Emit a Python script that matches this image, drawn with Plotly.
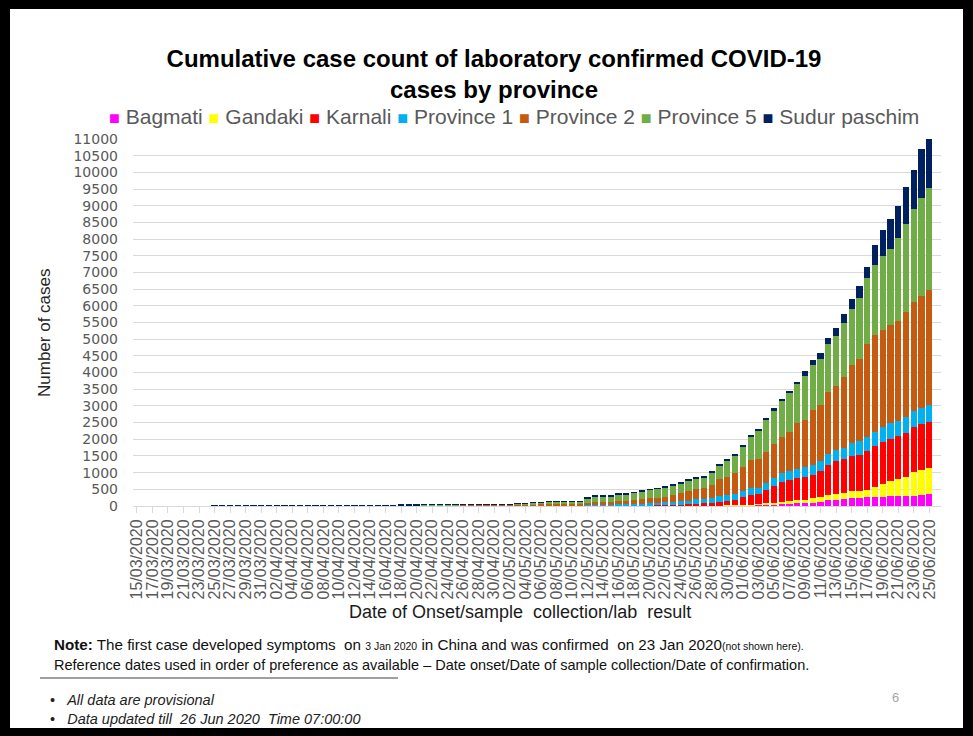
import pandas as pd
import plotly.graph_objects as go

# ---- categories: one bar per day, axis runs one extra (empty) day past the data ----
first_day = "2020-03-15"
last_axis_day = "2020-06-26"
dates = pd.date_range(first_day, last_axis_day).strftime("%d/%m/%Y").tolist()
tick_labels = dates[0:103:2]

names = ["Bagmati", "Gandaki", "Karnali", "Province 1", "Province 2", "Province 5", "Sudur paschim"]
colors = ["#FF00FF", "#FFFF00", "#FF0000", "#00B0F0", "#C55A11", "#70AD47", "#002060"]

# ---- cumulative confirmed cases per province, 15/03/2020 .. 25/06/2020 ----
bagmati = [
    0, 0, 0, 0, 0, 0, 0, 0, 0, 0,
    2, 2, 2, 2, 2, 2, 2, 2, 2, 2,
    3, 3, 3, 3, 3, 3, 3, 4, 4, 4,
    4, 4, 4, 4, 4, 4, 4, 5, 5, 5,
    5, 5, 5, 5, 5, 5, 5, 5, 5, 5,
    5, 5, 5, 5, 5, 5, 5, 5, 5, 5,
    5, 5, 5, 5, 5, 5, 5, 5, 5, 6,
    8, 8, 10, 10, 10, 10, 12, 15, 20, 20,
    30, 30, 40, 50, 60, 80, 90, 100, 130, 180,
    180, 200, 230, 230, 260, 280, 280, 300, 300, 310,
    310, 330, 350]

gandaki = [
    0, 0, 0, 0, 0, 0, 0, 0, 0, 0,
    0, 0, 1, 1, 1, 1, 1, 1, 1, 1,
    1, 1, 1, 1, 1, 1, 1, 1, 1, 1,
    1, 1, 1, 1, 1, 1, 1, 1, 1, 1,
    1, 1, 1, 1, 1, 1, 1, 1, 1, 1,
    1, 1, 1, 1, 1, 1, 1, 1, 1, 1,
    1, 1, 1, 1, 2, 2, 2, 2, 2, 2,
    2, 2, 2, 3, 5, 5, 5, 8, 10, 20,
    30, 50, 60, 80, 90, 100, 100, 130, 150, 160,
    180, 200, 205, 225, 230, 280, 380, 460, 520, 570,
    720, 750, 780]

karnali = [
    0, 0, 0, 0, 0, 0, 0, 0, 0, 0,
    0, 0, 0, 0, 0, 0, 0, 0, 0, 0,
    0, 0, 0, 0, 0, 0, 0, 0, 0, 0,
    0, 0, 0, 0, 0, 0, 0, 0, 0, 0,
    0, 0, 0, 0, 0, 0, 0, 0, 0, 0,
    0, 0, 0, 0, 0, 0, 0, 0, 1, 2,
    2, 2, 3, 3, 3, 5, 8, 13, 23, 24,
    30, 40, 48, 67, 85, 115, 143, 162, 230, 300,
    300, 410, 500, 600, 640, 650, 690, 700, 760, 900,
    990, 1000, 1075, 1080, 1170, 1240, 1250, 1255, 1265, 1300,
    1340, 1370, 1380]

province1 = [
    0, 0, 0, 0, 0, 0, 0, 0, 0, 0,
    0, 0, 0, 0, 0, 0, 0, 0, 0, 0,
    1, 1, 1, 1, 1, 1, 1, 1, 1, 2,
    2, 2, 2, 14, 14, 14, 14, 16, 17, 17,
    17, 17, 17, 17, 17, 17, 17, 17, 17, 17,
    17, 17, 17, 17, 17, 17, 17, 17, 25, 30,
    30, 32, 40, 42, 50, 60, 65, 70, 80, 98,
    110, 110, 140, 140, 150, 170, 170, 175, 190, 190,
    190, 190, 240, 250, 265, 270, 290, 300, 305, 310,
    320, 340, 370, 400, 420, 430, 450, 460, 470, 480,
    485, 500, 510]

province2 = [
    0, 0, 0, 0, 0, 0, 0, 0, 0, 0,
    0, 0, 0, 0, 0, 0, 0, 0, 0, 0,
    0, 0, 0, 0, 0, 0, 0, 0, 0, 1,
    1, 1, 1, 1, 1, 1, 1, 4, 4, 6,
    6, 6, 7, 7, 8, 9, 9, 10, 10, 18,
    20, 25, 28, 32, 36, 36, 36, 40, 70, 90,
    90, 90, 105, 105, 120, 130, 150, 160, 170, 200,
    230, 285, 300, 310, 390, 500, 530, 620, 710, 850,
    850, 950, 1020, 1100, 1175, 1380, 1400, 1650, 1685, 1870,
    1940, 2120, 2340, 2485, 2770, 2910, 2920, 2945, 3005, 3160,
    3245, 3350, 3440]

province5 = [
    0, 0, 0, 0, 0, 0, 0, 0, 0, 0,
    0, 0, 0, 0, 0, 0, 0, 0, 1, 1,
    2, 2, 2, 2, 2, 2, 2, 4, 4, 4,
    5, 5, 5, 6, 6, 6, 6, 11, 13, 14,
    15, 15, 17, 17, 18, 20, 20, 21, 21, 29,
    34, 57, 64, 65, 66, 66, 66, 67, 128, 162,
    162, 164, 196, 196, 210, 238, 250, 260, 260, 270,
    280, 315, 320, 330, 360, 420, 490, 520, 620, 690,
    840, 940, 1000, 1070, 1150, 1170, 1330, 1340, 1370, 1430,
    1500, 1640, 1690, 1820, 1970, 2090, 2200, 2280, 2480, 2640,
    2810, 2930, 3070]

sudurpaschim = [
    0, 0, 0, 0, 0, 0, 0, 0, 0, 0,
    1, 1, 1, 2, 2, 2, 2, 2, 2, 2,
    2, 2, 2, 2, 2, 2, 2, 3, 3, 3,
    3, 3, 3, 4, 5, 5, 5, 5, 5, 5,
    5, 5, 5, 5, 5, 5, 5, 5, 5, 5,
    5, 5, 5, 5, 5, 5, 5, 5, 10, 10,
    10, 10, 10, 10, 20, 20, 20, 20, 40, 40,
    40, 40, 40, 40, 50, 50, 50, 50, 50, 60,
    60, 70, 70, 70, 70, 80, 140, 150, 180, 190,
    220, 260, 290, 340, 350, 600, 780, 900, 960, 1090,
    1170, 1460, 1470]

series = [bagmati, gandaki, karnali, province1, province2, province5, sudurpaschim]

# ---- page geometry (pixels) ----
FIG_W, FIG_H = 973, 736
L, R, T, B = 133, 941, 139, 506
W, H = R - L, B - T


def px_x(x):
    return (x - L) / W


def px_y(y):
    return (B - y) / H


fig = go.Figure()
for name, vals, col in zip(names, series, colors):
    fig.add_trace(go.Bar(
        x=dates[:len(vals)], y=vals, name=name,
        marker=dict(color=col, line=dict(width=0)),
    ))

FONT = "Liberation Sans, Arial, sans-serif"
GREY = "#595959"

fig.update_layout(
    width=FIG_W, height=FIG_H,
    margin=dict(l=L, r=FIG_W - R, t=T, b=FIG_H - B, pad=0),
    paper_bgcolor="black", plot_bgcolor="white",
    barmode="stack", bargap=0.19, showlegend=False,
    font=dict(family=FONT, color=GREY),
    title=dict(
        text="<b>Cumulative case count of laboratory confirmed COVID-19</b><br><b>cases by province</b>",
        xref="container", yref="container", x=494 / FIG_W, xanchor="center",
        y=1 - 67 / FIG_H, yanchor="middle",
        font=dict(family=FONT, size=24, color="black"),
    ),
    xaxis=dict(
        type="category", categoryorder="array", categoryarray=dates,
        range=[-0.5, len(dates) - 0.5],
        tickmode="array", tickvals=tick_labels, ticktext=tick_labels,
        tickangle=-90, tickfont=dict(family=FONT, size=16, color=GREY),
        showline=True, linecolor="#d9d9d9", linewidth=1,
        ticks="outside", ticklen=6, tickcolor="#d9d9d9",
        showgrid=False, fixedrange=True,
    ),
    yaxis=dict(
        range=[0, 11000], tickmode="linear", tick0=0, dtick=500, tickformat="d",
        tickfont=dict(family="DejaVu Sans, sans-serif", size=14, color=GREY),
        showgrid=True, gridcolor="#d9d9d9", gridwidth=1,
        showline=False, zeroline=False, ticks="", ticklabelstandoff=14,
        fixedrange=True,
    ),
)

# white slide card inside the black frame
fig.add_shape(type="rect", xref="paper", yref="paper",
              x0=px_x(10), x1=px_x(963), y0=px_y(728), y1=px_y(9),
              fillcolor="white", line=dict(width=0), layer="below")

# legend line: coloured squares followed by province names
legend_text = " ".join(
    f"<span style='color:{c};font-size:18px'>■</span> {n}" for n, c in zip(names, colors)
)

annotations = [
    dict(text=legend_text, x=px_x(514), y=px_y(116), xanchor="center", yanchor="middle",
         font=dict(family=FONT, size=21, color=GREY)),
    dict(text="Number of cases", textangle=-90, x=px_x(44), y=px_y(333),
         xanchor="center", yanchor="middle", font=dict(family=FONT, size=17, color="#262626")),
    dict(text="Date of Onset/sample\u00a0 collection/lab\u00a0 result", x=px_x(520), y=px_y(612),
         xanchor="center", yanchor="middle", font=dict(family=FONT, size=18, color="#1a1a1a")),
    dict(text="<b>Note:</b> The first case developed symptoms\u00a0 on "
              "<span style='font-size:10.5px'>3 Jan 2020</span> in China and was confirmed\u00a0 on 23 Jan 2020"
              "<span style='font-size:10.5px'>(not shown here).</span>",
         x=px_x(52), y=px_y(644), xanchor="left", yanchor="middle",
         font=dict(family=FONT, size=15.2, color="#111111")),
    dict(text="Reference dates used in order of preference as available – Date onset/Date of sample collection/Date of confirmation.",
         x=px_x(52), y=px_y(665), xanchor="left", yanchor="middle",
         font=dict(family=FONT, size=14.5, color="#111111")),
    dict(text="•\u00a0\u00a0\u00a0<i>All data are provisional</i>",
         x=px_x(48), y=px_y(700), xanchor="left", yanchor="middle",
         font=dict(family=FONT, size=14.5, color="#222222")),
    dict(text="•\u00a0\u00a0\u00a0<i>Data updated till\u00a0 26 Jun 2020\u00a0 Time 07:00:00</i>",
         x=px_x(48), y=px_y(719), xanchor="left", yanchor="middle",
         font=dict(family=FONT, size=14.5, color="#222222")),
    dict(text="6", x=px_x(895), y=px_y(697), xanchor="center", yanchor="middle",
         font=dict(family=FONT, size=13, color="#a6a6a6")),
]
for a in annotations:
    a.update(xref="paper", yref="paper", showarrow=False)
fig.update_layout(annotations=annotations)

# rule under the note
fig.add_shape(type="line", xref="paper", yref="paper",
              x0=px_x(40), x1=px_x(398), y0=px_y(678), y1=px_y(678),
              line=dict(color="#7f7f7f", width=1.5))

fig.write_html("out.html")
